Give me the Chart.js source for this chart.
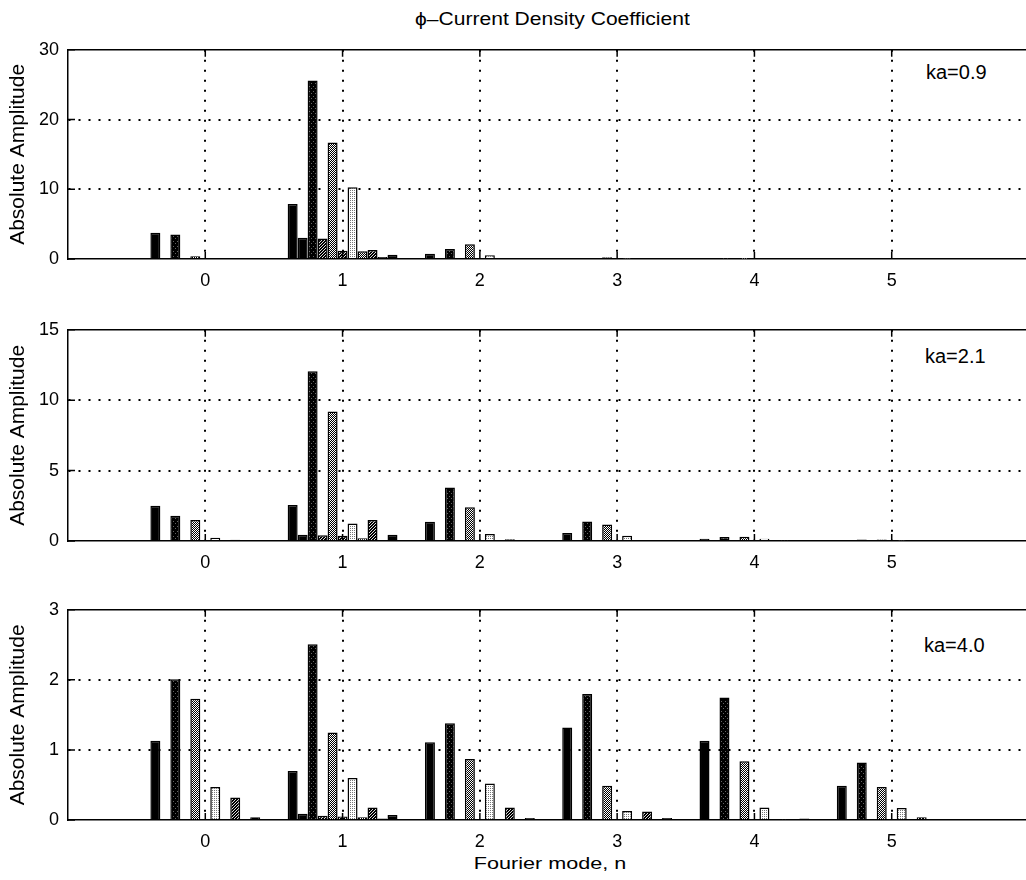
<!DOCTYPE html>
<html><head><meta charset="utf-8">
<script src="https://cdn.jsdelivr.net/npm/chart.js@4/dist/chart.umd.min.js"></script>
<style>
html,body{margin:0;padding:0;background:#fff;overflow:hidden;width:1026px;height:880px;position:relative;}
canvas{position:absolute;left:0;}
.lbl{position:absolute;font-family:"Liberation Sans",Arial,Helvetica,sans-serif;color:#000;white-space:nowrap;line-height:20px;}
</style></head><body>
<div class="lbl" id="title" style="left:0;width:1104px;top:9px;font-size:18px;text-align:center;"><span style="display:inline-block;transform:scaleX(1.17);">ϕ–Current Density Coefficient</span></div>
<div class="lbl" style="left:0;width:1100px;top:854px;font-size:17px;text-align:center;"><span style="display:inline-block;transform:scaleX(1.27);">Fourier mode, n</span></div>
<div class="lbl" style="left:926px;top:62px;font-size:20px;">ka=0.9</div>
<div class="lbl" style="left:925px;top:346px;font-size:20px;">ka=2.1</div>
<div class="lbl" style="left:924px;top:635px;font-size:20px;">ka=4.0</div>
<canvas id="c1" width="1040" height="259" style="top:30px"></canvas>
<canvas id="c2" width="1040" height="261" style="top:310px"></canvas>
<canvas id="c3" width="1040" height="260" style="top:590px"></canvas>
<script>
// Fourier modes (categories)
const modes = [0, 1, 2, 3, 4, 5];
const xTickLabels = ['0', '1', '2', '3', '4', '5'];

// ka = 0.9 : 11 bar series per Fourier mode
const ka09_n0 = [3.75, 0, 3.5, 0, 0.4, 0, 0.12, 0, 0, 0, 0];
const ka09_n1 = [7.9, 3.05, 25.6, 2.95, 16.7, 1.2, 10.3, 1.1, 1.3, 0.3, 0.6];
const ka09_n2 = [0.75, 0, 1.45, 0, 2.1, 0, 0.55, 0, 0.12, 0, 0];
const ka09_n3 = [0.08, 0, 0.15, 0, 0.25, 0, 0.05, 0, 0, 0, 0];
const ka09_n4 = [0.02, 0, 0.03, 0, 0.02, 0, 0, 0, 0, 0, 0];
const ka09_n5 = [0, 0, 0, 0, 0, 0, 0, 0, 0, 0, 0];

// ka = 2.1
const ka21_n0 = [2.5, 0, 1.8, 0, 1.5, 0, 0.23, 0, 0.08, 0, 0.05];
const ka21_n1 = [2.55, 0.45, 12.05, 0.4, 9.2, 0.37, 1.25, 0.19, 1.5, 0.05, 0.45];
const ka21_n2 = [1.36, 0, 3.8, 0, 2.4, 0, 0.5, 0, 0.12, 0, 0];
const ka21_n3 = [0.56, 0, 1.38, 0, 1.17, 0, 0.37, 0, 0, 0, 0];
const ka21_n4 = [0.16, 0, 0.28, 0, 0.3, 0, 0.16, 0, 0.05, 0, 0];
const ka21_n5 = [0.05, 0, 0.1, 0, 0.1, 0, 0.03, 0, 0, 0, 0];

// ka = 4.0
const ka40_n0 = [1.13, 0, 2.01, 0, 1.73, 0, 0.47, 0, 0.32, 0, 0.04];
const ka40_n1 = [0.70, 0.09, 2.51, 0.06, 1.25, 0.05, 0.6, 0.04, 0.18, 0.02, 0.07];
const ka40_n2 = [1.11, 0, 1.38, 0, 0.87, 0, 0.52, 0, 0.18, 0, 0.03];
const ka40_n3 = [1.32, 0, 1.80, 0, 0.49, 0, 0.13, 0, 0.12, 0, 0.03];
const ka40_n4 = [1.13, 0, 1.75, 0, 0.84, 0, 0.18, 0, 0.01, 0, 0.02];
const ka40_n5 = [0.49, 0, 0.82, 0, 0.47, 0, 0.17, 0, 0.04, 0, 0];

const yTicks09 = [0, 10, 20, 30];
const yTicks21 = [0, 5, 10, 15];
const yTicks40 = [0, 1, 2, 3];

// ---- fills (grayscale print patterns) ----
function pat(w, h, bg, fg, pts) {
  const c = document.createElement('canvas'); c.width = w; c.height = h;
  const g = c.getContext('2d'); g.fillStyle = bg; g.fillRect(0, 0, w, h);
  g.fillStyle = fg; pts.forEach(p => g.fillRect(p[0], p[1], 1, 1));
  return g.createPattern(c, 'repeat');
}
const fBlack = '#000';
const fSpeck = pat(4, 5, '#000', '#666', [[1, 1], [3, 3]]);
const fDark = pat(3, 3, '#000', '#ddd', [[0, 0], [2, 1], [1, 2]]);
const fMid = pat(2, 2, '#000', '#fff', [[0, 0], [1, 1]]);
const fLight = pat(2, 2, '#fff', '#777', [[0, 0]]);
const fills = [fBlack, fBlack, fSpeck, fDark, fMid, fDark, fLight, fMid, fDark, fBlack, fBlack];

const FONT = '"Liberation Sans", Arial, Helvetica, sans-serif';

const inTicks = {
  id: 'inTicks',
  afterDraw(chart) {
    const { ctx, chartArea: a, scales: { x, y } } = chart;
    ctx.save(); ctx.strokeStyle = '#000'; ctx.lineWidth = 1.5;
    ctx.beginPath();
    modes.forEach(v => {
      const px = x.getPixelForValue(v);
      ctx.moveTo(px, a.bottom); ctx.lineTo(px, a.bottom - 7);
      ctx.moveTo(px, a.top); ctx.lineTo(px, a.top + 7);
    });
    y.ticks.forEach(t => {
      const py = y.getPixelForValue(t.value);
      ctx.moveTo(a.left, py); ctx.lineTo(a.left + 7, py);
    });
    ctx.stroke(); ctx.restore();
  }
};

function makeChart(id, rows, yTicks, padTop) {
  const nSeries = rows[0].length;
  const datasets = [];
  for (let s = 0; s < nSeries; s++) {
    datasets.push({
      data: modes.map((m, i) => ({ x: m, y: rows[i][s] })),
      backgroundColor: fills[s],
      borderColor: '#000',
      borderWidth: 1.5,
      categoryPercentage: 0.8,
      barPercentage: 1.0
    });
  }
  const yMax = yTicks[yTicks.length - 1];
  const yStep = yTicks[1] - yTicks[0];
  return new Chart(document.getElementById(id), {
    type: 'bar',
    data: { datasets },
    options: {
      responsive: false, animation: false, devicePixelRatio: 1,
      layout: { padding: { top: padTop, left: 0, right: 0, bottom: 0 } },
      plugins: { legend: { display: false }, tooltip: { enabled: false } },
      scales: {
        x: {
          type: 'linear', min: -1, max: 6, offset: false,
          afterFit: s => { s.height = 30; },
          grid: {
            offset: false, drawTicks: false, lineWidth: 2,
            color: c => (c.tick && c.tick.value >= 0 && c.tick.value <= 5) ? '#000' : 'rgba(0,0,0,0)'
          },
          border: { display: true, color: '#000', width: 1.5, dash: [2, 8] },
          ticks: {
            stepSize: 1, padding: 11, color: '#000',
            font: { family: FONT, size: 18 },
            callback: v => { const i = modes.indexOf(v); return i >= 0 ? xTickLabels[i] : ''; }
          }
        },
        x2: {
          type: 'linear', axis: 'x', position: 'top', min: -1, max: 6,
          afterFit: s => { s.height = 0; },
          grid: { display: false, drawTicks: false },
          ticks: { display: false },
          border: { display: true, color: '#000', width: 1.5 }
        },
        y: {
          min: 0, max: yMax,
          afterFit: s => { s.width = 68; },
          grid: {
            drawTicks: false, lineWidth: 2,
            color: c => (c.tick && c.tick.value > 0 && c.tick.value < yMax) ? '#000' : 'rgba(0,0,0,0)'
          },
          border: { display: true, color: '#000', width: 1.5, dash: [2, 8] },
          ticks: {
            stepSize: yStep, padding: 9, color: '#000',
            font: { family: FONT, size: 18 },
            callback: v => yTicks.includes(v) ? String(v) : ''
          },
          title: {
            display: true, text: 'Absolute Amplitude', color: '#000',
            font: { family: FONT, size: 21 }, padding: { top: 6, bottom: 0 }
          }
        }
      }
    },
    plugins: [inTicks]
  });
}

makeChart('c1', [ka09_n0, ka09_n1, ka09_n2, ka09_n3, ka09_n4, ka09_n5], yTicks09, 13);
makeChart('c2', [ka21_n0, ka21_n1, ka21_n2, ka21_n3, ka21_n4, ka21_n5], yTicks21, 17);
makeChart('c3', [ka40_n0, ka40_n1, ka40_n2, ka40_n3, ka40_n4, ka40_n5], yTicks40, 18);
</script>
</body></html>
